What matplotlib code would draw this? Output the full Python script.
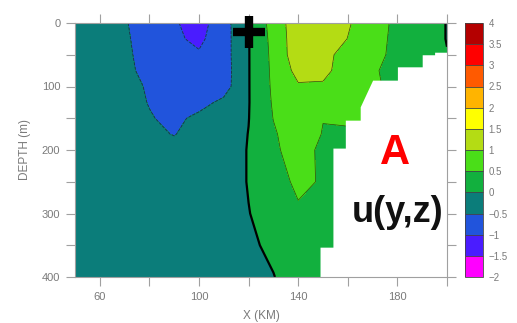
import numpy as np
import matplotlib
matplotlib.use("Agg")
import matplotlib.pyplot as plt
from matplotlib.colors import ListedColormap, BoundaryNorm

# ---------------- data ----------------
x_km = [50, 60, 70, 80, 90, 100, 110, 120, 130, 140, 150, 160, 170, 180, 190, 200]
depth_m = [0, 25, 50, 75, 100, 125, 150, 175, 200, 250, 300, 350, 400]
u_vals = [
    [-0.30, -0.35, -0.45, -0.80, -0.95, -1.20, -0.70, -0.01, 0.70, 1.30, 1.35, 1.05, 0.70, 0.40, 0.30, -0.02],
    [-0.30, -0.33, -0.42, -0.75, -0.92, -1.10, -0.70, -0.02, 0.65, 1.30, 1.30, 0.99, 0.68, 0.38, 0.30, -0.02],
    [-0.28, -0.32, -0.40, -0.70, -0.85, -0.95, -0.70, -0.02, 0.62, 1.30, 1.08, 0.90, 0.66, 0.36, 0.25, 0.02],
    [-0.27, -0.30, -0.38, -0.65, -0.80, -0.85, -0.72, -0.02, 0.60, 1.15, 1.08, 0.85, 0.57, 0.30, 0.20, 0.05],
    [-0.26, -0.29, -0.35, -0.55, -0.75, -0.80, -0.70, -0.02, 0.58, 0.95, 0.96, 0.80, 0.62, 0.30, 0.20, 0.10],
    [-0.25, -0.28, -0.33, -0.52, -0.70, -0.65, -0.40, -0.02, 0.55, 0.85, 0.80, 0.72, 0.62, 0.30, 0.20, 0.10],
    [-0.22, -0.25, -0.30, -0.47, -0.60, -0.40, -0.30, -0.01, 0.51, 0.80, 0.51, 0.58, 0.56, 0.25, 0.20, 0.10],
    [-0.20, -0.24, -0.30, -0.45, -0.51, -0.40, -0.25, 0.01, 0.45, 0.75, 0.48, 0.42, 0.40, 0.25, 0.20, 0.10],
    [-0.20, -0.25, -0.30, -0.38, -0.42, -0.35, -0.20, 0.02, 0.42, 0.70, 0.40, 0.30, 0.25, 0.20, 0.20, 0.10],
    [-0.20, -0.22, -0.26, -0.30, -0.30, -0.28, -0.20, 0.02, 0.35, 0.57, 0.47, 0.25, 0.20, 0.20, 0.20, 0.10],
    [-0.18, -0.20, -0.22, -0.24, -0.24, -0.22, -0.15, -0.01, 0.15, 0.45, 0.42, 0.25, 0.20, 0.20, 0.20, 0.10],
    [-0.16, -0.18, -0.20, -0.20, -0.20, -0.18, -0.12, -0.05, 0.06, 0.30, 0.30, 0.20, 0.20, 0.20, 0.20, 0.10],
    [-0.15, -0.16, -0.18, -0.18, -0.18, -0.16, -0.10, -0.06, -0.01, 0.15, 0.25, 0.20, 0.20, 0.20, 0.20, 0.10],
]

# bathymetry (white land area), staircase outline
bathy_x = [148.8, 148.8, 154, 154, 159, 159, 165, 165, 170, 180, 180, 190, 190, 195, 195, 200]
bathy_z = [400, 353, 353, 197, 197, 153, 153, 132, 90, 90, 69, 69, 50, 50, 46, 46]

levels = [-2, -1.5, -1, -0.5, 0, 0.5, 1, 1.5, 2, 2.5, 3, 3.5, 4]
level_colors = ['#ff00ff', '#4a1cff', '#2154dc', '#0b7d7a', '#12b03e', '#4ade18',
                '#b4dc14', '#ffff00', '#ffb400', '#ff5a00', '#ff0000', '#b40000']
cbar_labels = ['\u22122', '\u22121.5', '\u22121', '\u22120.5', '0', '0.5', '1', '1.5',
               '2', '2.5', '3', '3.5', '4']
x_ticks = [60, 80, 100, 120, 140, 160, 180, 200]
x_ticklabels = ['60', '', '100', '', '140', '', '180', '']
y_ticks = [0, 50, 100, 150, 200, 250, 300, 350, 400]
y_ticklabels = ['0', '', '100', '', '200', '', '300', '', '400']

cross_x, cross_z = 120, 14

# ---------------- figure ----------------
W, H = 517, 323
fig = plt.figure(figsize=(W / 100, H / 100), dpi=100)
ax = fig.add_axes([75 / W, 1 - 277 / H, 372 / W, 254 / H])
cax = fig.add_axes([465 / W, 1 - 277 / H, 18 / W, 254 / H])

cmap = ListedColormap(level_colors)
norm = BoundaryNorm(levels, cmap.N)

X, Z = np.meshgrid(np.array(x_km), np.array(depth_m))
U = np.array(u_vals)

cf = ax.contourf(X, Z, U, levels=levels, cmap=cmap, norm=norm)
neg_lv = [l for l in levels if l < 0]
pos_lv = [l for l in levels if l > 0]
ax.contour(X, Z, U, levels=neg_lv, colors='#1e2e4a', linewidths=0.6, linestyles='--')
ax.contour(X, Z, U, levels=pos_lv, colors='#2a4a10', linewidths=0.5, linestyles='-')
ax.contour(X, Z, U, levels=[0], colors='black', linewidths=1.6)

ax.fill_between(bathy_x, bathy_z, 400, color='white', zorder=3, linewidth=0)

ax.set_xlim(50, 200)
ax.set_ylim(400, 0)

for s in ax.spines.values():
    s.set_color('#a0a0a0')
    s.set_linewidth(0.8)
    s.set_zorder(5)

ax.set_xticks(x_ticks)
ax.set_xticklabels(x_ticklabels)
ax.set_yticks(y_ticks)
ax.set_yticklabels(y_ticklabels)
ax.tick_params(axis='both', direction='out', length=6.5, width=0.8, color='#a0a0a0',
               labelcolor='#7a7a7a', labelsize=8, top=True, right=True, pad=4)
for lab in ax.get_xticklabels() + ax.get_yticklabels():
    lab.set_family(['Liberation Sans', 'DejaVu Sans'])

ax.set_xlabel('X (KM)', color='#7a7a7a', fontsize=8.5, family=['Liberation Sans', 'DejaVu Sans'],
              labelpad=6)
ax.set_ylabel('DEPTH (m)', color='#7a7a7a', fontsize=8.5, family=['Liberation Sans', 'DejaVu Sans'],
              labelpad=8)

# cross marker
ax.plot([cross_x], [cross_z], marker='+', markersize=23, markeredgewidth=6,
        color='black', clip_on=False, zorder=10)

# annotation text
ax.text(0.86, 0.445, 'A', transform=ax.transAxes, color='#ff0000', fontsize=30,
        fontweight='bold', ha='center', va='baseline',
        family=['Liberation Sans Narrow', 'Liberation Sans', 'DejaVu Sans'], zorder=10)
ax.text(0.867, 0.217, 'u(y,z)', transform=ax.transAxes, color='#111111', fontsize=26,
        fontweight='bold', ha='center', va='baseline',
        family=['Liberation Sans Narrow', 'Liberation Sans', 'DejaVu Sans'], zorder=10)

# colorbar
cb = fig.colorbar(cf, cax=cax, ticks=levels, drawedges=True)
cb.outline.set_edgecolor('#444444')
cb.outline.set_linewidth(0.6)
cb.dividers.set_color('#444444')
cb.dividers.set_linewidth(0.6)
cb.set_ticklabels(cbar_labels)
cax.tick_params(length=0, labelsize=7, labelcolor='#7a7a7a', pad=4)
for lab in cax.get_yticklabels():
    lab.set_family(['Liberation Sans', 'DejaVu Sans'])

fig.savefig('out.png', dpi=100)
